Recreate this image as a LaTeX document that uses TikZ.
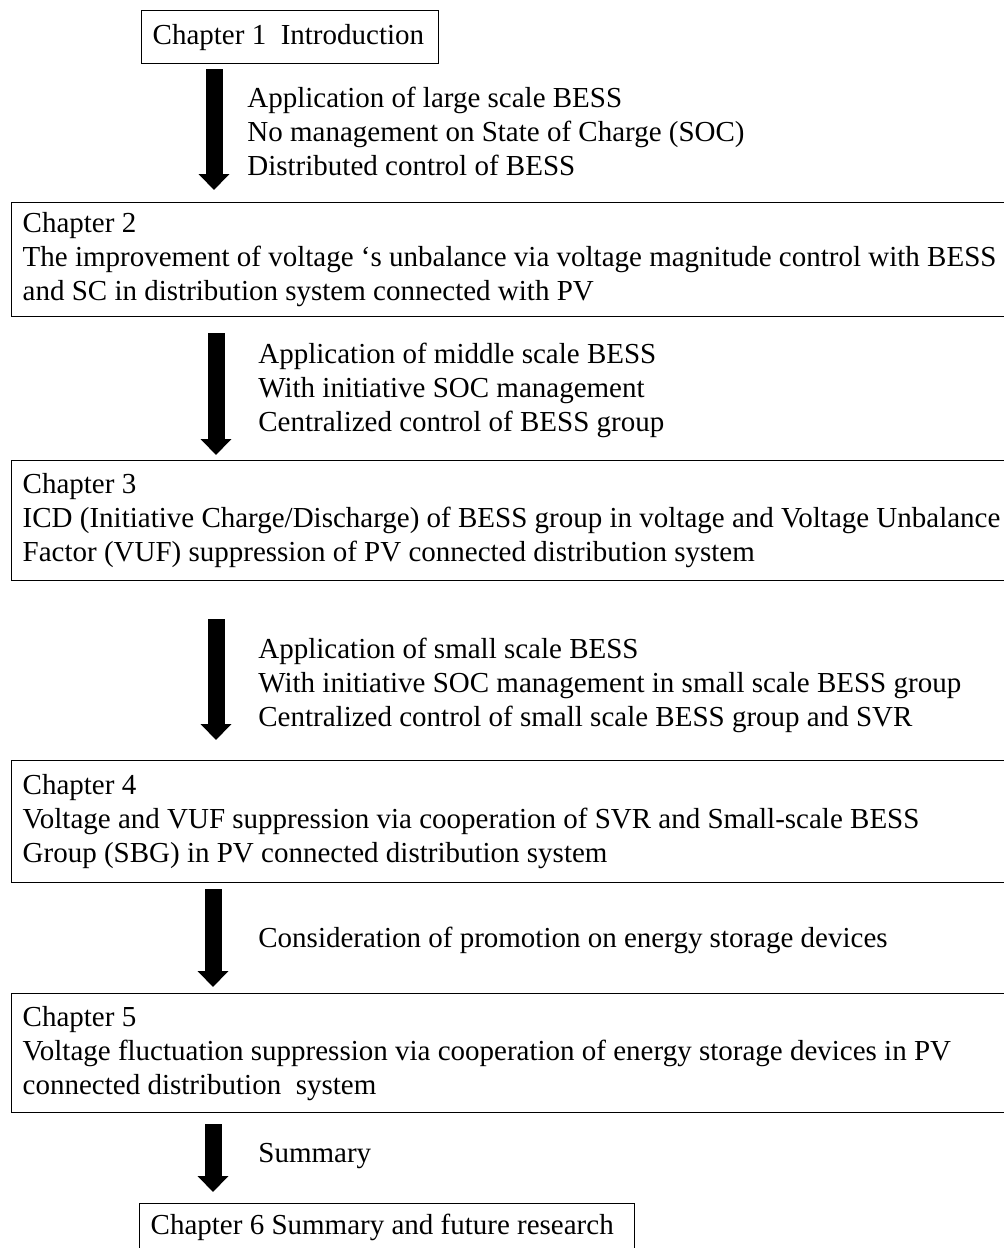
\documentclass[tikz,border=0pt]{standalone}
\usepackage{fontspec}
\setmainfont{Liberation Serif}
\usepackage{tikz}
\usetikzlibrary{arrows.meta}
\usetikzlibrary{positioning}

\tikzset{
  chapbox/.style={draw, line width=0.7pt, anchor=north west, align=flush left,
    inner xsep=5.5pt, inner ysep=0pt, font=\fontsize{14.5}{17}\selectfont},
  note/.style={anchor=west, align=left, inner sep=0pt,
    font=\fontsize{14.5}{17}\selectfont},
  bigarrow/.style={line width=8.5pt, -{Triangle[width=15pt, length=8pt]}}
}

\begin{document}
\begin{tikzpicture}[x=0.5pt, y=-0.5pt]
\useasboundingbox (0,0) rectangle (1003,1248);
% chapters
\node[chapbox, text width=137.5pt, minimum height=26.5pt] (ch1) at (141,10) {Chapter 1\ \ Introduction};
\node[chapbox, text width=540pt, minimum height=57pt] (ch2) at (11,202) {Chapter 2\\
The improvement of voltage \textquoteleft s unbalance via voltage magnitude control with BESS\\
and SC in distribution system connected with PV};
\node[chapbox, text width=540pt, minimum height=60pt] (ch3) at (11,460) {Chapter 3\\
ICD (Initiative Charge/Discharge) of BESS group in voltage and Voltage Unbalance\\
Factor (VUF) suppression of PV connected distribution system};
\node[chapbox, text width=540pt, minimum height=61pt] (ch4) at (11,760) {Chapter 4\\
Voltage and VUF suppression via cooperation of SVR and Small-scale BESS\\
Group (SBG) in PV connected distribution system};
\node[chapbox, text width=540pt, minimum height=59.5pt] (ch5) at (11,993) {Chapter 5\\
Voltage fluctuation suppression via cooperation of energy storage devices in PV\\
connected distribution\ \ system};
\node[chapbox, text width=236.5pt, minimum height=24pt] (ch6) at (139,1203) {Chapter 6 Summary and future research};
% arrow positions
\coordinate (ax1) at (214,0);
\coordinate (ax2) at (216,0);
\coordinate (ax3) at (216,0);
\coordinate (ax4) at (213,0);
\coordinate (ax5) at (213,0);
% arrows
\draw[bigarrow, shorten <=2.5pt, shorten >=6pt] (ch1.south -| ax1) -- (ch2.north -| ax1);
\draw[bigarrow, shorten <=8pt, shorten >=2.5pt] (ch2.south -| ax2) -- (ch3.north -| ax2);
\draw[bigarrow, shorten <=19pt, shorten >=10pt] (ch3.south -| ax3) -- (ch4.north -| ax3);
\draw[bigarrow, shorten <=3pt, shorten >=3pt] (ch4.south -| ax4) -- (ch5.north -| ax4);
\draw[bigarrow, shorten <=5.5pt, shorten >=5.5pt] (ch5.south -| ax5) -- (ch6.north -| ax5);
% notes
\node[note] (n1) at (247,131) {Application of large scale BESS\\
No management on State of Charge (SOC)\\
Distributed control of BESS};
\node[note] (n2) at (258,390) {Application of middle scale BESS\\
With initiative SOC management\\
Centralized control of BESS group};
\node[note] (n3) at (258,685) {Application of small scale BESS\\
With initiative SOC management in small scale BESS group\\
Centralized control of small scale BESS group and SVR};
\node[note] (n4) at (258,940) {Consideration of promotion on energy storage devices};
\node[note] (n5) at (258,1156) {Summary};
\end{tikzpicture}
\end{document}
